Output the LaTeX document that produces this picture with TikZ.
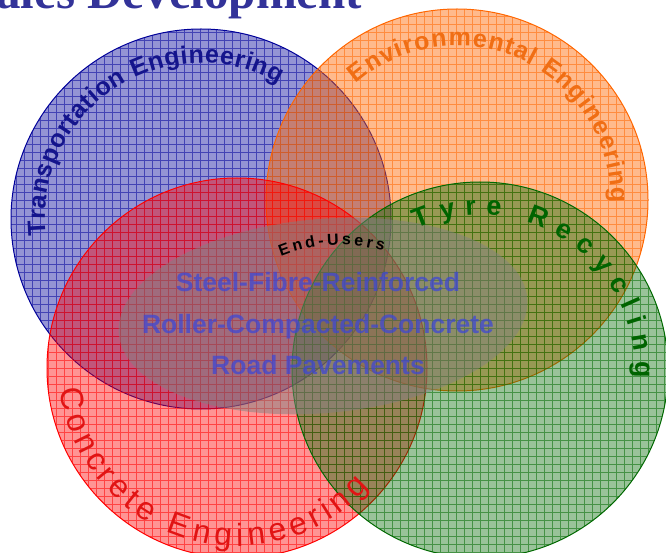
\documentclass[tikz,border=0pt]{standalone}
\usepackage{fontspec}
\setmainfont{Liberation Sans}
\newfontfamily\titlefont{Liberation Serif}
\usetikzlibrary{decorations.text}
\definecolor{cblue}{RGB}{0,0,153}
\definecolor{corange}{RGB}{255,102,0}
\definecolor{cred}{RGB}{255,0,0}
\definecolor{cgreen}{RGB}{0,105,0}
\definecolor{titleblue}{RGB}{51,51,153}
\definecolor{tblue}{RGB}{20,20,140}
\definecolor{torange}{RGB}{240,110,20}
\definecolor{tred}{RGB}{225,20,20}
\definecolor{tgreen}{RGB}{0,100,0}
\definecolor{midblue}{RGB}{60,70,215}
\tikzset{
  gridlines/.style={line width=0.5pt, opacity=0.55},
  rim/.style={line width=1pt},
  arctext/.style={decorate, decoration={text along path, text align=fit to path, text color=#1}},
}
\begin{document}
\begin{tikzpicture}[x=1pt,y=1pt]
\useasboundingbox (0,0) rectangle (666,552);
\clip (0,0) rectangle (666,552);
\coordinate (bc) at (201,333);
\coordinate (oc) at (457,352);
\coordinate (rc) at (237,184);
\coordinate (gc) at (480,182);
\coordinate (ec) at (323,236);
\coordinate (uc) at (340,149);
% blue
\begin{scope}
  \clip (bc) circle[radius=190];
  \fill[cblue, fill opacity=0.42] (bc) circle[radius=190];
  \draw[cblue, gridlines, step=8pt] (0,0) grid (666,552);
\end{scope}
\draw[cblue, rim] (bc) circle[radius=190];
% orange
\begin{scope}
  \clip (oc) circle[radius=191];
  \fill[corange, fill opacity=0.45] (oc) circle[radius=191];
  \draw[corange, gridlines, step=8pt] (0,0) grid (666,552);
\end{scope}
\draw[corange, rim] (oc) circle[radius=191];
% red
\begin{scope}
  \clip (rc) circle[radius=190];
  \fill[cred, fill opacity=0.42] (rc) circle[radius=190];
  \draw[cred, gridlines, step=8pt] (0,0) grid (666,552);
\end{scope}
\draw[cred, rim] (rc) circle[radius=190];
% green
\begin{scope}
  \clip (gc) circle[radius=188];
  \fill[cgreen, fill opacity=0.4] (gc) circle[radius=188];
  \draw[cgreen, gridlines, step=8pt] (0,0) grid (666,552);
\end{scope}
\draw[cgreen, rim] (gc) circle[radius=188];
% gray ellipse
\fill[gray, fill opacity=0.5, rotate around={5:(ec)}] (ec) ellipse[x radius=205, y radius=97];
% title
\node[anchor=base west, inner sep=0, text=titleblue, font=\titlefont\bfseries\fontsize{49}{49}\selectfont] (title) at (-4,543) {ales Development};
% arc texts
\path[arctext=tblue, decoration={text={|\bfseries\fontsize{25}{25}\selectfont|Transportation Engineering}}]
  (bc) ++(186:156) arc[start angle=186, end angle=60, radius=156];
\path[arctext=torange, decoration={text={|\bfseries\fontsize{25}{25}\selectfont|Environmental Engineering}}]
  (oc) ++(131:154) arc[start angle=131, end angle=-1, radius=154];
\path[arctext=tgreen, decoration={text={|\bfseries\fontsize{27}{27}\selectfont|Tyre Recycling}}]
  (gc) ++(114:155) arc[start angle=114, end angle=-3, radius=155];
\path[arctext=tred, decoration={text={|\fontsize{32}{32}\selectfont|Concrete Engineering}}]
  (rc) ++(187:178) arc[start angle=187, end angle=318, radius=178];
\path[arctext=black, decoration={text={|\bfseries\fontsize{16}{16}\selectfont|End-Users}}]
  (uc) ++(112:158) arc[start angle=112, end angle=74, radius=158];
% central text
\node[align=center, inner sep=0, text=midblue, text opacity=0.72, font=\bfseries\fontsize{26.5}{41.5}\selectfont] (core) at (318,228) {Steel-Fibre-Reinforced\\Roller-Compacted-Concrete\\Road Pavements};
\end{tikzpicture}
\end{document}
